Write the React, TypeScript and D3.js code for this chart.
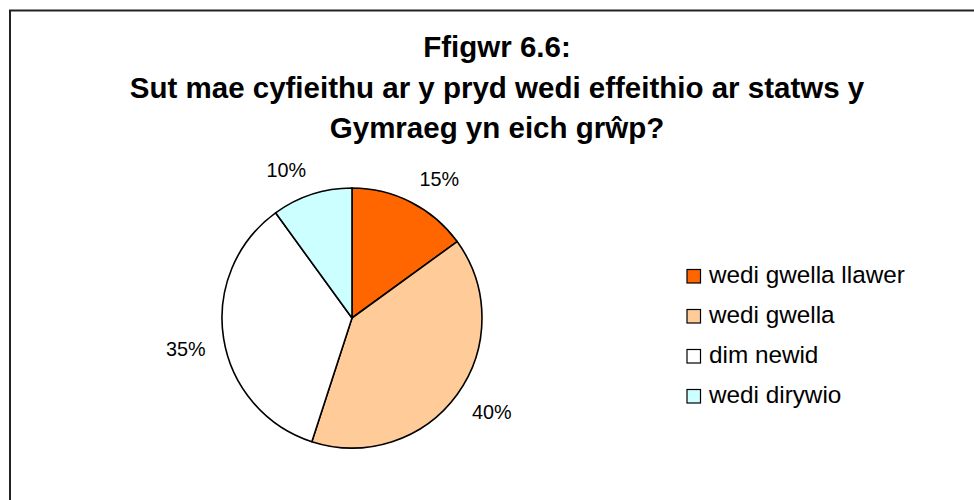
import React from "react";
import * as d3 from "d3";

const categories = ["wedi gwella llawer", "wedi gwella", "dim newid", "wedi dirywio"];
const values = [15, 40, 35, 10];
const colors = ["#FF6600", "#FFCC99", "#FFFFFF", "#CCFFFF"];
const titleLines = ["Ffigwr 6.6:", "Sut mae cyfieithu ar y pryd wedi effeithio ar statws y", "Gymraeg yn eich grŵp?"];

export default function App() {
  const W = 974, H = 500;
  const cx = 352, cy = 318, r = 130;
  const pie = d3.pie<number>().sort(null).value((d) => d)(values);
  const arc = d3.arc<d3.PieArcDatum<number>>().innerRadius(0).outerRadius(r);
  const total = d3.sum(values);
  const labelR = 148;
  const fontFamily = "'Liberation Sans', Arial, sans-serif";

  return (
    <svg width={W} height={H} style={{ position: "absolute", left: 0, top: 0, background: "#fff" }} fontFamily={fontFamily}>
      <rect x={0} y={0} width={W} height={H} fill="#fff" />
      <rect x={10} y={10.5} width={W + 20} height={H + 20} fill="none" stroke="#222" strokeWidth={2} />
      {titleLines.map((t, i) => (
        <text key={i} x={497} y={57 + i * 40.7} textAnchor="middle" fontSize={29.5} fontWeight="bold" fill="#000">
          {t}
        </text>
      ))}
      <g transform={`translate(${cx},${cy})`}>
        {pie.map((p, i) => (
          <path key={i} d={arc(p) || ""} fill={colors[i]} stroke="#000" strokeWidth={1.6} strokeLinejoin="round" />
        ))}
        {pie.map((p, i) => {
          const a = (p.startAngle + p.endAngle) / 2;
          const s = Math.sin(a), c = Math.cos(a);
          const w = 40, h = 15;
          const x = labelR * s + (w / 2) * Math.sign(s);
          const y = -labelR * c - (h / 2) * Math.sign(c);
          return (
            <text key={i} x={x} y={y + 7} textAnchor="middle" fontSize={19.8} fill="#000">
              {`${Math.round((values[i] / total) * 100)}%`}
            </text>
          );
        })}
      </g>
      <g>
        {categories.map((c, i) => (
          <g key={i} transform={`translate(687,${283 + i * 40})`}>
            <rect x={0} y={-13.5} width={13.5} height={13.5} fill={colors[i]} stroke="#000" strokeWidth={1.2} />
            <text x={22} y={0} fontSize={24.3} fill="#000">
              {c}
            </text>
          </g>
        ))}
      </g>
    </svg>
  );
}
